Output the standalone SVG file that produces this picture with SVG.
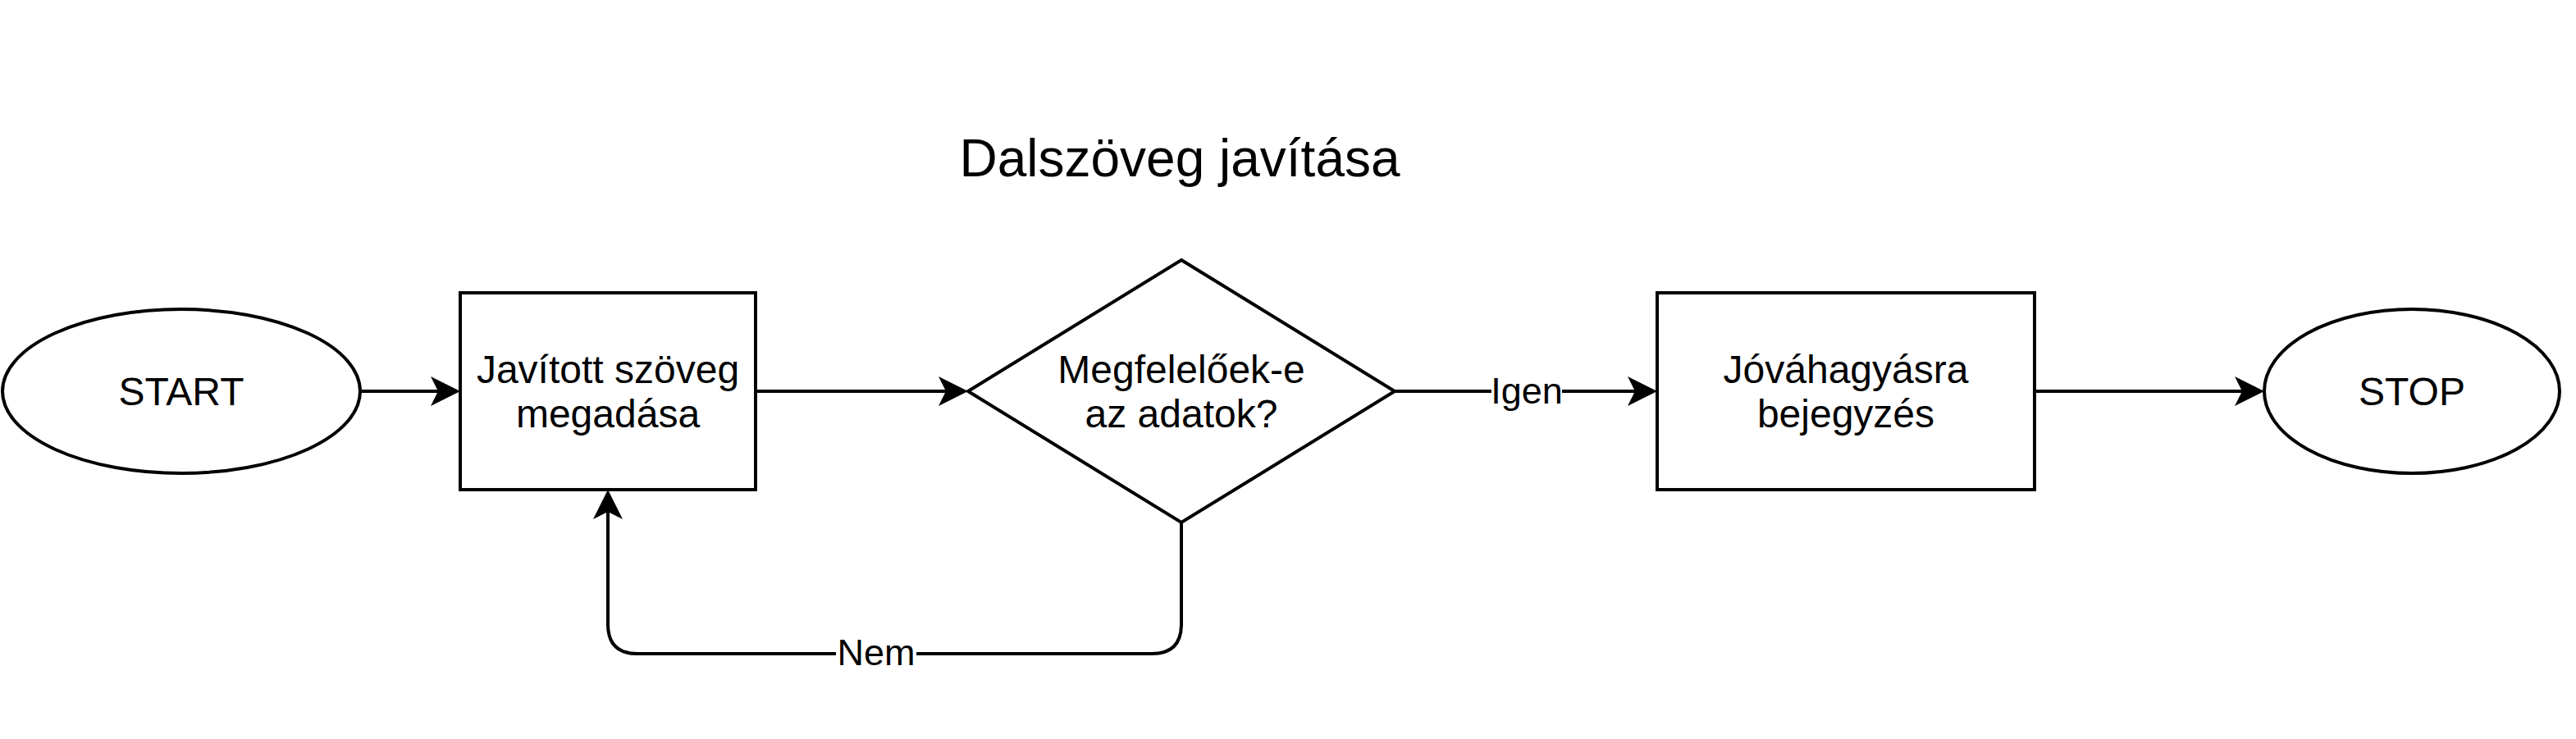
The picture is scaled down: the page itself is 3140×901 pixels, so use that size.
<svg xmlns="http://www.w3.org/2000/svg" width="3140" height="901" viewBox="0 0 3140 901">
<style>
  .shape { fill: #ffffff; stroke: #000000; stroke-width: 4; }
  .edge { fill: none; stroke: #000000; stroke-width: 4; marker-end: url(#arrow); }
  .t { font-family: "Liberation Sans", Arial, sans-serif; font-size: 48px; fill: #000000; text-anchor: middle; }
  .lbl { font-family: "Liberation Sans", Arial, sans-serif; font-size: 45px; fill: #000000; text-anchor: middle; }
  .title { font-family: "Liberation Sans", Arial, sans-serif; font-size: 64px; fill: #000000; text-anchor: middle; }
  .lblbg { fill: #ffffff; stroke: none; }
</style>
<defs>
  <marker id="arrow" markerUnits="userSpaceOnUse" markerWidth="36" markerHeight="36" viewBox="0 0 36 36" refX="9" refY="18" orient="auto">
    <path d="M0 0 L36 18 L0 36 L9 18 Z" fill="#000000"/>
  </marker>
</defs>
<rect width="3140" height="901" fill="#ffffff"/>
<g id="title">
  <text class="title" x="1438" y="215">Dalszöveg javítása</text>
</g>
<g id="connectors">
  <path class="edge" d="M439 477 L534 477"/>
  <path class="edge" d="M921 477 L1153 477"/>
  <path class="edge" d="M1700 477 L1993 477"/>
  <path class="edge" d="M2480 477 L2733 477"/>
  <path class="edge" d="M1440 637 L1440 761 Q1440 797 1404 797 L777 797 Q741 797 741 761 L741 624"/>
  <rect class="lblbg" x="1818" y="452" width="86" height="50"/>
  <text class="lbl" x="1861" y="492">Igen</text>
  <rect class="lblbg" x="1019" y="772" width="98" height="48"/>
  <text class="lbl" x="1068" y="811">Nem</text>
</g>
<g id="start">
  <ellipse class="shape" cx="221" cy="477" rx="218" ry="100"/>
  <text class="t" x="221" y="494">START</text>
</g>
<g id="javitott">
  <rect class="shape" x="561" y="357" width="360" height="240"/>
  <text class="t" x="741" y="467">Javított szöveg</text>
  <text class="t" x="741" y="521">megadása</text>
</g>
<g id="dontes">
  <path class="shape" d="M1440 317 L1700 477 L1440 637 L1180 477 Z"/>
  <text class="t" x="1440" y="467">Megfelelőek-e</text>
  <text class="t" x="1440" y="521">az adatok?</text>
</g>
<g id="jovahagyas">
  <rect class="shape" x="2020" y="357" width="460" height="240"/>
  <text class="t" x="2250" y="467">Jóváhagyásra</text>
  <text class="t" x="2250" y="521">bejegyzés</text>
</g>
<g id="stop">
  <ellipse class="shape" cx="2940" cy="477" rx="180" ry="100"/>
  <text class="t" x="2940" y="494">STOP</text>
</g>
</svg>
